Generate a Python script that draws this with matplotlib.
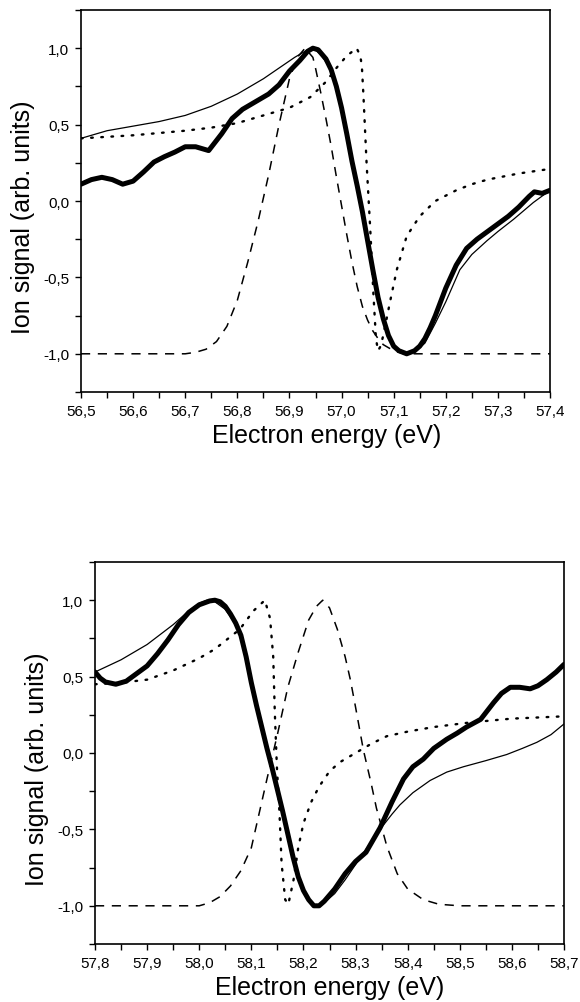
"""Two stacked resonance panels: ion signal vs electron energy."""
import matplotlib
matplotlib.use("Agg")
import matplotlib.pyplot as plt
from matplotlib.ticker import MultipleLocator, FuncFormatter

plt.rcParams["font.family"] = ["Liberation Sans", "DejaVu Sans"]

# ---- upper panel (56.5 - 57.4 eV) ----
top_exp_x = [56.50, 56.52, 56.54, 56.56, 56.58, 56.60, 56.62, 56.64, 56.66, 56.68,
             56.70, 56.72, 56.745, 56.77, 56.79, 56.81, 56.84, 56.86, 56.88, 56.90,
             56.92, 56.935, 56.945, 56.955, 56.97, 56.98, 56.99, 57.00, 57.01, 57.02,
             57.03, 57.04, 57.05, 57.06, 57.07, 57.08, 57.09, 57.10, 57.11, 57.125,
             57.14, 57.15, 57.16, 57.17, 57.18, 57.19, 57.20, 57.22, 57.24, 57.26,
             57.28, 57.30, 57.32, 57.34, 57.36, 57.37, 57.385, 57.40]
top_exp_y = [0.11, 0.14, 0.155, 0.14, 0.11, 0.13, 0.19, 0.255, 0.29, 0.32,
             0.355, 0.355, 0.33, 0.44, 0.54, 0.60, 0.66, 0.70, 0.76, 0.85,
             0.92, 0.98, 1.0, 0.99, 0.93, 0.86, 0.75, 0.61, 0.44, 0.26,
             0.10, -0.07, -0.26, -0.45, -0.63, -0.77, -0.88, -0.95, -0.98, -1.0,
             -0.98, -0.95, -0.90, -0.83, -0.75, -0.66, -0.57, -0.42, -0.31, -0.25,
             -0.20, -0.15, -0.10, -0.04, 0.03, 0.06, 0.05, 0.07]

top_fit_x = [56.50, 56.55, 56.60, 56.65, 56.70, 56.75, 56.80, 56.85, 56.88, 56.91,
             56.935, 56.945, 56.96, 56.98, 57.00, 57.02, 57.04, 57.06, 57.08, 57.10,
             57.12, 57.13, 57.14, 57.16, 57.18, 57.20, 57.227, 57.25, 57.279, 57.30,
             57.33, 57.368, 57.40]
top_fit_y = [0.41, 0.46, 0.49, 0.52, 0.56, 0.62, 0.70, 0.80, 0.87, 0.94,
             0.99, 1.0, 0.96, 0.86, 0.62, 0.27, -0.07, -0.45, -0.77, -0.95,
             -0.99, -1.0, -0.99, -0.93, -0.80, -0.66, -0.45, -0.35, -0.26, -0.20,
             -0.12, -0.01, 0.07]

top_dash_x = [56.50, 56.70, 56.72, 56.74, 56.76, 56.78, 56.80, 56.82, 56.84, 56.86,
              56.88, 56.90, 56.915, 56.93, 56.945, 56.95, 56.96, 56.97, 56.98, 56.99,
              57.00, 57.01, 57.02, 57.03, 57.04, 57.05, 57.06, 57.07, 57.08, 57.10,
              57.12, 57.40]
top_dash_y = [-1.0, -1.0, -0.99, -0.97, -0.92, -0.82, -0.65, -0.40, -0.13, 0.17,
              0.50, 0.80, 0.94, 1.0, 0.94, 0.87, 0.71, 0.54, 0.36, 0.16,
              -0.03, -0.22, -0.40, -0.56, -0.69, -0.78, -0.85, -0.90, -0.94, -0.98,
              -1.0, -1.0]

top_dot_x = [56.50, 56.55, 56.60, 56.65, 56.70, 56.75, 56.80, 56.85, 56.90, 56.94,
             56.97, 56.99, 57.01, 57.029, 57.036, 57.039, 57.042, 57.048, 57.055, 57.061,
             57.066, 57.070, 57.075, 57.08, 57.093, 57.106, 57.125, 57.15, 57.18, 57.22,
             57.25, 57.28, 57.34, 57.40]
top_dot_y = [0.41, 0.42, 0.43, 0.445, 0.46, 0.48, 0.51, 0.56, 0.61, 0.68,
             0.78, 0.87, 0.95, 1.0, 0.95, 0.88, 0.69, 0.25, -0.18, -0.60,
             -0.90, -0.98, -0.95, -0.88, -0.66, -0.45, -0.23, -0.10, 0.0, 0.07,
             0.11, 0.14, 0.18, 0.21]

# ---- lower panel (57.8 - 58.7 eV) ----
bot_exp_x = [57.80, 57.81, 57.82, 57.84, 57.86, 57.88, 57.90, 57.92, 57.94, 57.96,
             57.98, 58.00, 58.02, 58.03, 58.04, 58.05, 58.06, 58.07, 58.08, 58.09,
             58.10, 58.11, 58.12, 58.13, 58.14, 58.15, 58.16, 58.17, 58.18, 58.19,
             58.20, 58.21, 58.22, 58.23, 58.24, 58.26, 58.28, 58.30, 58.32, 58.347,
             58.37, 58.392, 58.41, 58.43, 58.45, 58.475, 58.495, 58.513, 58.54, 58.565,
             58.58, 58.597, 58.615, 58.635, 58.65, 58.667, 58.685, 58.70]
bot_exp_y = [0.53, 0.49, 0.465, 0.45, 0.47, 0.52, 0.57, 0.65, 0.74, 0.84,
             0.92, 0.97, 0.995, 1.0, 0.99, 0.96, 0.91, 0.85, 0.77, 0.63,
             0.46, 0.31, 0.17, 0.03, -0.10, -0.24, -0.38, -0.53, -0.68, -0.81,
             -0.90, -0.96, -1.0, -1.0, -0.97, -0.89, -0.79, -0.71, -0.65, -0.49,
             -0.32, -0.17, -0.09, -0.04, 0.03, 0.09, 0.13, 0.17, 0.22, 0.33,
             0.39, 0.43, 0.43, 0.42, 0.44, 0.48, 0.53, 0.58]

bot_fit_x = [57.80, 57.85, 57.90, 57.95, 57.98, 58.00, 58.015, 58.03, 58.05, 58.07,
             58.08, 58.09, 58.10, 58.11, 58.12, 58.13, 58.14, 58.15, 58.16, 58.17,
             58.18, 58.19, 58.20, 58.21, 58.225, 58.24, 58.26, 58.28, 58.30, 58.32,
             58.347, 58.37, 58.385, 58.41, 58.443, 58.475, 58.507, 58.55, 58.59, 58.62,
             58.648, 58.675, 58.70]
bot_fit_y = [0.53, 0.61, 0.71, 0.84, 0.93, 0.98, 1.0, 0.99, 0.94, 0.84,
             0.77, 0.63, 0.46, 0.31, 0.17, 0.03, -0.10, -0.24, -0.38, -0.53,
             -0.68, -0.81, -0.91, -0.97, -1.0, -0.98, -0.92, -0.83, -0.73, -0.63,
             -0.50, -0.40, -0.34, -0.26, -0.18, -0.125, -0.09, -0.05, -0.01, 0.03,
             0.07, 0.12, 0.19]

bot_dash_x = [57.80, 58.00, 58.02, 58.04, 58.06, 58.08, 58.10, 58.13, 58.15, 58.17,
              58.19, 58.21, 58.225, 58.237, 58.25, 58.265, 58.28, 58.29, 58.30, 58.315,
              58.33, 58.34, 58.36, 58.38, 58.40, 58.43, 58.46, 58.50, 58.70]
bot_dash_y = [-1.0, -1.0, -0.98, -0.94, -0.87, -0.77, -0.62, -0.17, 0.12, 0.43,
              0.66, 0.87, 0.96, 1.0, 0.95, 0.81, 0.63, 0.48, 0.30, 0.02,
              -0.20, -0.36, -0.61, -0.79, -0.89, -0.96, -0.99, -1.0, -1.0]

bot_dot_x = [57.80, 57.85, 57.90, 57.95, 58.00, 58.03, 58.078, 58.104, 58.126, 58.136,
             58.142, 58.145, 58.149, 58.154, 58.158, 58.165, 58.171, 58.181, 58.19, 58.20,
             58.215, 58.23, 58.25, 58.27, 58.30, 58.33, 58.36, 58.40, 58.45, 58.52,
             58.60, 58.70]
bot_dot_y = [0.45, 0.46, 0.48, 0.54, 0.62, 0.68, 0.81, 0.93, 1.0, 0.88,
             0.63, 0.27, -0.09, -0.39, -0.72, -0.96, -0.99, -0.83, -0.62, -0.46,
             -0.32, -0.22, -0.12, -0.06, 0.0, 0.06, 0.11, 0.14, 0.17, 0.20,
             0.225, 0.24]

comma = FuncFormatter(lambda v, pos: f"{v:.1f}".replace(".", ","))


def draw_panel(ax, exp_x, exp_y, fit_x, fit_y, dash_x, dash_y, dot_x, dot_y, xlim):
    ax.plot(dash_x, dash_y, color="black", lw=1.1, linestyle=(0, (6, 5)))
    ax.plot(dot_x, dot_y, color="black", lw=1.7, linestyle=(0, (0.7, 3.6)),
            dash_capstyle="round")
    ax.plot(fit_x, fit_y, color="black", lw=0.9)
    ax.plot(exp_x, exp_y, color="black", lw=3.6, solid_capstyle="round",
            solid_joinstyle="round")
    ax.set_xlim(*xlim)
    ax.set_ylim(-1.25, 1.25)
    ax.xaxis.set_major_locator(MultipleLocator(0.1))
    ax.xaxis.set_minor_locator(MultipleLocator(0.05))
    ax.yaxis.set_major_locator(MultipleLocator(0.5))
    ax.yaxis.set_minor_locator(MultipleLocator(0.25))
    ax.xaxis.set_major_formatter(comma)
    ax.yaxis.set_major_formatter(comma)
    ax.tick_params(which="both", direction="out", length=4.5, width=1.0,
                   top=False, right=False, labelsize=11, pad=4)
    for s in ax.spines.values():
        s.set_linewidth(1.2)
    ax.set_xlabel("Electron energy (eV)", fontsize=18, labelpad=4)
    ax.set_ylabel("Ion signal (arb. units)", fontsize=18, labelpad=6)
    ax.yaxis.label.set_y(0.46)


fig = plt.figure(figsize=(5.8, 10.03), dpi=100)
ax1 = fig.add_axes([81 / 580, 1 - 393 / 1003, 469 / 580, 382 / 1003])
ax2 = fig.add_axes([95 / 580, 1 - 945 / 1003, 469 / 580, 382 / 1003])

draw_panel(ax1, top_exp_x, top_exp_y, top_fit_x, top_fit_y,
           top_dash_x, top_dash_y, top_dot_x, top_dot_y, (56.5, 57.4))
draw_panel(ax2, bot_exp_x, bot_exp_y, bot_fit_x, bot_fit_y,
           bot_dash_x, bot_dash_y, bot_dot_x, bot_dot_y, (57.8, 58.7))
ax1.xaxis.label.set_x(0.523)

fig.savefig("out.png", dpi=100)
plt.close(fig)
